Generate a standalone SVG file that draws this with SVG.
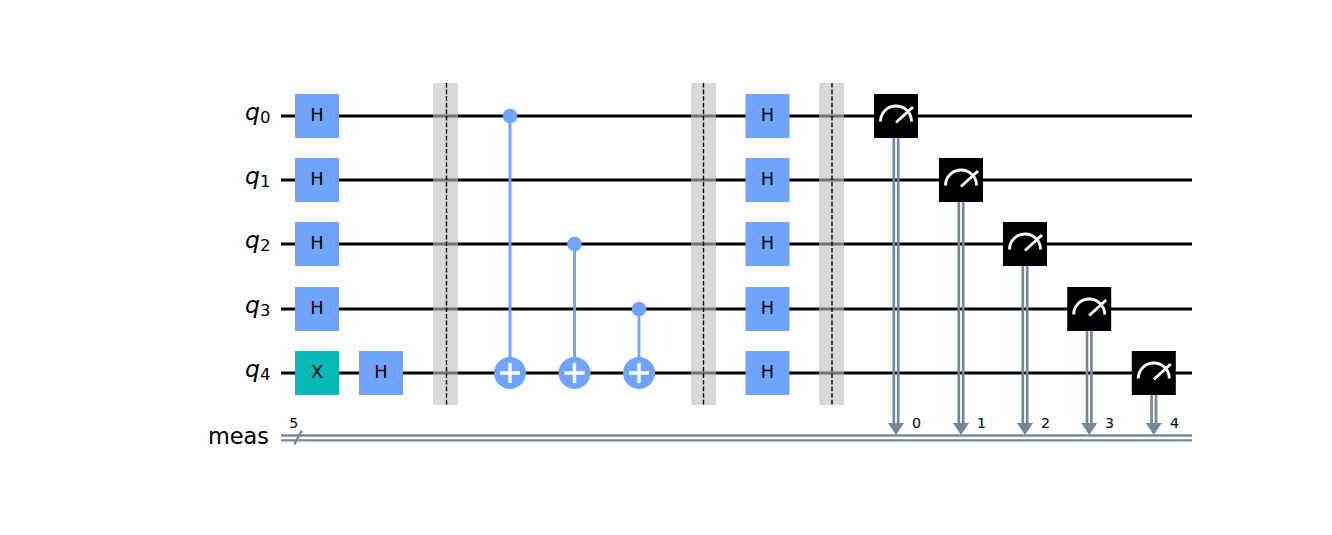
<svg xmlns="http://www.w3.org/2000/svg" width="1332" height="535" viewBox="0 0 1332 535">
<style>
.w{stroke:#000;stroke-width:2.9;fill:none}
.c{stroke:#778899;stroke-width:2.7;fill:none}
.ch{stroke:#778899;stroke-width:2.4;fill:none}
.ct{stroke:#6fa4ff;stroke-width:2.9;fill:none}
.bar{fill:#bfbfbf;opacity:.6}
.dash{stroke:#000;stroke-width:1.4;stroke-dasharray:4.6 2;fill:none}
.h{fill:#6fa4ff}
.x{fill:#05bab6}
.m{fill:#000}
.mi{stroke:#fff;stroke-width:2.9;fill:none}
text{font-family:"DejaVu Sans",sans-serif;fill:#000}
.g{font-size:17.8px;text-anchor:middle}
.l{font-size:22.4px;text-anchor:end}
.q{font-size:23.5px;font-style:italic}
.s{font-size:16.5px;font-style:normal}
.n{font-size:14.2px}
.t{fill:#6fa4ff}
.p{stroke:#fff;stroke-width:3.4;fill:none}
.ar{fill:#778899}
</style>
<defs>
<g id="meter"><rect class="m" x="-22" y="-22" width="44" height="44"/><path class="mi" d="M-15.5 5.5A15.5 15.5 0 0 1 15.5 5.5M0 6.5L17 -9"/></g>
<g id="hbox"><rect class="h" x="-22" y="-22" width="44" height="44"/><text class="g" x="0" y="5.3">H</text></g>
<g id="target"><circle class="t" r="16"/><path class="p" d="M-10 0H10M0 -10V10"/></g>
<g id="darrow"><path class="ar" d="M-8 423H8L0 435Z"/></g>
</defs>
<g id="connectors">
<path class="w" d="M281 116H1192M281 180H1192M281 244H1192M281 309H1192M281 373H1192"/>
<path class="ch" d="M281 435.5H1192M281 440.4H1192M294.3 444.5L301.7 430.5"/>
<path class="ct" d="M510 116V373M574.5 244V373M639 309V373"/>
<path class="c" d="M893.8 138V424M898.2 138V424M958.8 202V424M963.2 202V424M1022.8 266V424M1027.2 266V424M1087 331V424M1091.4 331V424M1151.6 395V424M1156 395V424"/>
</g>
<g id="labels">
<text class="q" x="245" y="120.3">q<tspan class="s" dy="2.7">0</tspan></text>
<text class="q" x="245" y="184.3">q<tspan class="s" dy="2.7">1</tspan></text>
<text class="q" x="245" y="248.3">q<tspan class="s" dy="2.7">2</tspan></text>
<text class="q" x="245" y="313.3">q<tspan class="s" dy="2.7">3</tspan></text>
<text class="q" x="245" y="377.3">q<tspan class="s" dy="2.7">4</tspan></text>
<text class="l" x="269" y="444">meas</text>
<text class="n" x="289.3" y="428">5</text>
</g>
<g id="h0"><use href="#hbox" x="317" y="116"/></g>
<g id="h1"><use href="#hbox" x="317" y="180"/></g>
<g id="h2"><use href="#hbox" x="317" y="244"/></g>
<g id="h3"><use href="#hbox" x="317" y="309"/></g>
<g id="x4"><rect class="x" x="295" y="351" width="44" height="44"/><text class="g" x="317" y="378.3">X</text></g>
<g id="h4a"><use href="#hbox" x="381" y="373"/></g>
<g id="barrier1"><rect class="bar" x="433" y="83" width="25" height="322"/><path class="dash" d="M446.5 83V405"/></g>
<g id="cx0"><circle class="t" cx="510" cy="116" r="7.3"/><use href="#target" x="510" y="373"/></g>
<g id="cx1"><circle class="t" cx="574.5" cy="244" r="7.3"/><use href="#target" x="574.5" y="373"/></g>
<g id="cx2"><circle class="t" cx="639" cy="309" r="7.3"/><use href="#target" x="639" y="373"/></g>
<g id="barrier2"><rect class="bar" x="691" y="83" width="25" height="322"/><path class="dash" d="M703.5 83V405"/></g>
<g id="h0b"><use href="#hbox" x="767.5" y="116"/></g>
<g id="h1b"><use href="#hbox" x="767.5" y="180"/></g>
<g id="h2b"><use href="#hbox" x="767.5" y="244"/></g>
<g id="h3b"><use href="#hbox" x="767.5" y="309"/></g>
<g id="h4b"><use href="#hbox" x="767.5" y="373"/></g>
<g id="barrier3"><rect class="bar" x="819" y="83" width="25" height="322"/><path class="dash" d="M832 83V405"/></g>
<g id="m0"><use href="#meter" x="896" y="116"/><use href="#darrow" x="896"/><text class="n" x="912" y="428">0</text></g>
<g id="m1"><use href="#meter" x="961" y="180"/><use href="#darrow" x="961"/><text class="n" x="977" y="428">1</text></g>
<g id="m2"><use href="#meter" x="1025" y="244"/><use href="#darrow" x="1025"/><text class="n" x="1041" y="428">2</text></g>
<g id="m3"><use href="#meter" x="1089.2" y="309"/><use href="#darrow" x="1089.2"/><text class="n" x="1105" y="428">3</text></g>
<g id="m4"><use href="#meter" x="1153.8" y="373"/><use href="#darrow" x="1153.8"/><text class="n" x="1170" y="428">4</text></g>
</svg>
